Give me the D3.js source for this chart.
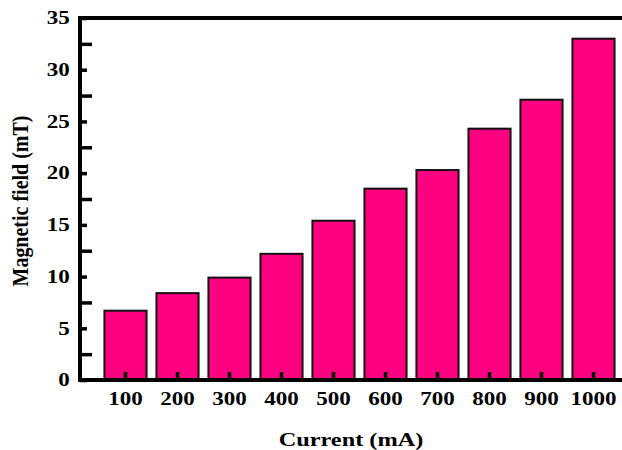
<html>
<head>
<script src="https://d3js.org/d3.v7.min.js"></script>
<style>
  body { margin: 0; background: #fff; }
  text { font-family: "Liberation Serif", "Times New Roman", serif; font-weight: bold; }
</style>
</head>
<body>
<svg width="622" height="450"></svg>
<script>
// data
var currents = ["100", "200", "300", "400", "500", "600", "700", "800", "900", "1000"];
var fields = [6.7, 8.4, 9.9, 12.2, 15.4, 18.5, 20.3, 24.3, 27.1, 33.0];
var majorTicks = [0, 5, 10, 15, 20, 25, 30, 35];
var minorTicks = [2.5, 7.5, 12.5, 17.5, 22.5, 27.5, 32.5];

var plotLeft = 80, plotTop = 18, plotBottom = 380, plotRight = 622;
var stretch = "scale(1.28,1)";   // the original glyphs are wide

var svg = d3.select("svg");

var y = d3.scaleLinear()
    .domain([0, 35])
    .range([plotBottom, plotTop]);

var x = d3.scaleBand()
    .domain(currents)
    .range([99.5, 619.5])
    .paddingInner(0.19)
    .paddingOuter(0.095);

// bars
svg.append("g").selectAll("rect")
    .data(fields)
    .enter().append("rect")
    .attr("x", function(d, i) { return x(currents[i]); })
    .attr("y", function(d) { return y(d); })
    .attr("width", x.bandwidth())
    .attr("height", function(d) { return y(0) - y(d); })
    .style("fill", "#ff0080")
    .style("stroke", "#111")
    .style("stroke-width", "2px");

// left axis, ticks point inward
svg.append("g")
    .attr("transform", "translate(" + plotLeft + ",0)")
    .call(d3.axisLeft(y).tickValues(minorTicks).tickSize(-12).tickFormat(""))
    .call(function(g) { g.select(".domain").remove(); })
    .selectAll("line").style("stroke-width", "3.5px");

var yAxis = svg.append("g")
    .attr("transform", "translate(" + plotLeft + ",0)")
    .call(d3.axisLeft(y).tickValues(majorTicks).tickSize(-7).tickPadding(8));
yAxis.select(".domain").remove();
yAxis.selectAll("line").style("stroke-width", "3.5px");
yAxis.selectAll("text")
    .attr("transform", stretch)
    .style("font-size", "18px").style("font-family", null);

// bottom axis, small ticks in the bar centres
var xAxis = svg.append("g")
    .attr("transform", "translate(0," + plotBottom + ")")
    .call(d3.axisBottom(x).tickSize(-8).tickPadding(12));
xAxis.select(".domain").remove();
xAxis.selectAll("line").style("stroke-width", "3.5px");
xAxis.selectAll("text")
    .attr("transform", stretch)
    .style("font-size", "18px").style("font-family", null);

// frame: left, bottom and top lines
var frame = svg.append("g").style("stroke", "#000").style("stroke-width", "4px");
frame.append("line").attr("x1", plotLeft).attr("x2", plotLeft).attr("y1", plotTop - 2).attr("y2", plotBottom + 2);
frame.append("line").attr("x1", plotLeft - 2).attr("x2", plotRight).attr("y1", plotBottom).attr("y2", plotBottom);
frame.append("line").attr("x1", plotLeft - 2).attr("x2", plotRight).attr("y1", plotTop).attr("y2", plotTop);

// axis titles
svg.append("g")
    .attr("transform", "translate(351,446) " + stretch)
    .append("text")
    .attr("text-anchor", "middle")
    .style("font-size", "19px")
    .text("Current (mA)");

svg.append("text")
    .attr("transform", "translate(28,201) rotate(-90) scale(1,1.12)")
    .attr("text-anchor", "middle")
    .style("font-size", "20px")
    .text("Magnetic field (mT)");
</script>
</body>
</html>
